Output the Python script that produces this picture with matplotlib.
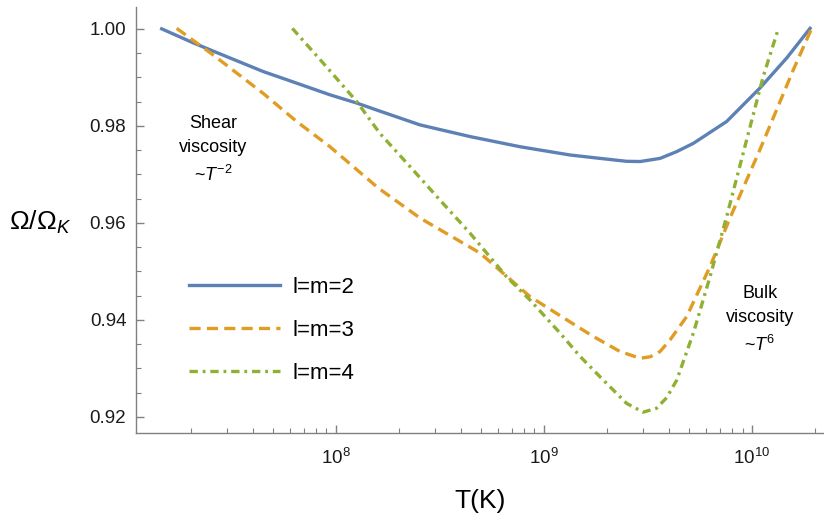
import numpy as np
import matplotlib.pyplot as plt
from matplotlib.ticker import LogLocator, MultipleLocator, FixedLocator

plt.rcParams['font.family'] = ['Liberation Sans', 'DejaVu Sans']
plt.rcParams['mathtext.fontset'] = 'custom'
plt.rcParams['mathtext.rm'] = 'Liberation Sans'
plt.rcParams['mathtext.it'] = 'Liberation Sans:italic'
plt.rcParams['lines.scale_dashes'] = False

# data (log10 of T, Omega/Omega_K)
logT_lm2 = [7.162, 7.314, 7.490, 7.650, 7.811, 7.971, 8.10, 8.20, 8.404, 8.644, 8.885,
            9.125, 9.269, 9.365, 9.397, 9.462, 9.558, 9.638, 9.718, 9.878, 10.038, 10.167, 10.279]
omega_lm2 = [1.0000, 0.9971, 0.9940, 0.9912, 0.9888, 0.9864, 0.9847, 0.9832, 0.9802, 0.9778, 0.9757,
             0.9740, 0.9733, 0.97285, 0.9727, 0.97265, 0.9733, 0.9747, 0.9764, 0.9809, 0.9878, 0.9940, 1.0001]

logT_lm3 = [7.234, 7.410, 7.650, 7.811, 7.971, 8.203, 8.404, 8.692, 8.933, 9.173,
            9.237, 9.365, 9.462, 9.51, 9.558, 9.606, 9.686, 9.798, 9.894, 10.038, 10.199, 10.287]
omega_lm3 = [1.0001, 0.9946, 0.9867, 0.9809, 0.9757, 0.9672, 0.9610, 0.9538, 0.9448, 0.9383,
             0.9366, 0.9335, 0.9321, 0.9324, 0.9335, 0.9359, 0.9407, 0.9510, 0.9610, 0.9751, 0.9916, 1.0001]

logT_lm4 = [7.790, 7.939, 8.100, 8.210, 8.356, 8.500, 8.644, 8.820, 8.933, 9.077, 9.173,
            9.269, 9.397, 9.477, 9.541, 9.59, 9.638, 9.718, 9.798, 9.878, 9.974, 10.054, 10.127]
omega_lm4 = [1.0001, 0.9929, 0.9850, 0.9785, 0.9716, 0.9647, 0.9579, 0.9489, 0.9441, 0.9373, 0.9325,
             0.9283, 0.9228, 0.9210, 0.9218, 0.9240, 0.9276, 0.9373, 0.9489, 0.9613, 0.9771, 0.9902, 1.0001]

labels = ['l=m=2', 'l=m=3', 'l=m=4']
colors = ['#5E81B5', '#E19C24', '#8FB032']

fig = plt.figure(figsize=(8.24, 5.16), dpi=100)
ax = fig.add_axes([136/824, 1 - 433/516, 1 - 136/824, 426/516])

lw = 2.4
ax.plot(10**np.array(logT_lm2), omega_lm2, color=colors[0], lw=lw, label=labels[0])
ax.plot(10**np.array(logT_lm3), omega_lm3, color=colors[1], lw=lw, ls=(0, (8, 4.5)), label=labels[1])
ax.plot(10**np.array(logT_lm4), omega_lm4, color=colors[2], lw=lw, ls=(0, (6, 3.5, 2, 3.5)), label=labels[2])

ax.set_xscale('log')
ax.set_xlim(10**7.0385, 10**10.346)
ax.set_ylim(0.9167, 1.0045)

ax.spines['top'].set_visible(False)
ax.spines['right'].set_visible(False)
for s in ['left', 'bottom']:
    ax.spines[s].set_color('#808080')
    ax.spines[s].set_linewidth(1.0)

ax.yaxis.set_major_locator(FixedLocator([0.92, 0.94, 0.96, 0.98, 1.00]))
ax.yaxis.set_minor_locator(MultipleLocator(0.005))
ax.yaxis.set_major_formatter(plt.FuncFormatter(lambda v, p: f'{v:.2f}'))
ax.xaxis.set_major_locator(LogLocator(base=10, numticks=10))
ax.xaxis.set_minor_locator(LogLocator(base=10, subs=np.arange(2, 10), numticks=20))
ax.tick_params(which='both', direction='in', color='#808080', labelsize=13.5, labelcolor='#1a1a1a')
ax.tick_params(which='major', length=6, width=1.0)
ax.tick_params(which='minor', length=3.5, width=0.8)
ax.tick_params(axis='x', which='major', pad=11)
ax.tick_params(axis='y', which='major', pad=7)

fig.text(480/824, 1 - 501/516, 'T(K)', ha='center', va='center', fontsize=19)
fig.text(40/824, 1 - 222/516, r'$\Omega/\Omega_{\mathit{K}}$', ha='center', va='center', fontsize=19)

ax.text(10**7.409, 0.9750, 'Shear\nviscosity\n~$\\mathit{T}^{-2}$', ha='center', va='center',
        fontsize=13, linespacing=1.55)
ax.text(10**10.038, 0.9400, 'Bulk\nviscosity\n~$\\mathit{T}^{6}$', ha='center', va='center',
        fontsize=13, linespacing=1.55)

ax.legend(loc='upper left', bbox_to_anchor=(0.048, 0.413), frameon=False,
          handlelength=4.1, handletextpad=0.55, labelspacing=0.98, fontsize=16)

fig.savefig('out.png', dpi=100)
